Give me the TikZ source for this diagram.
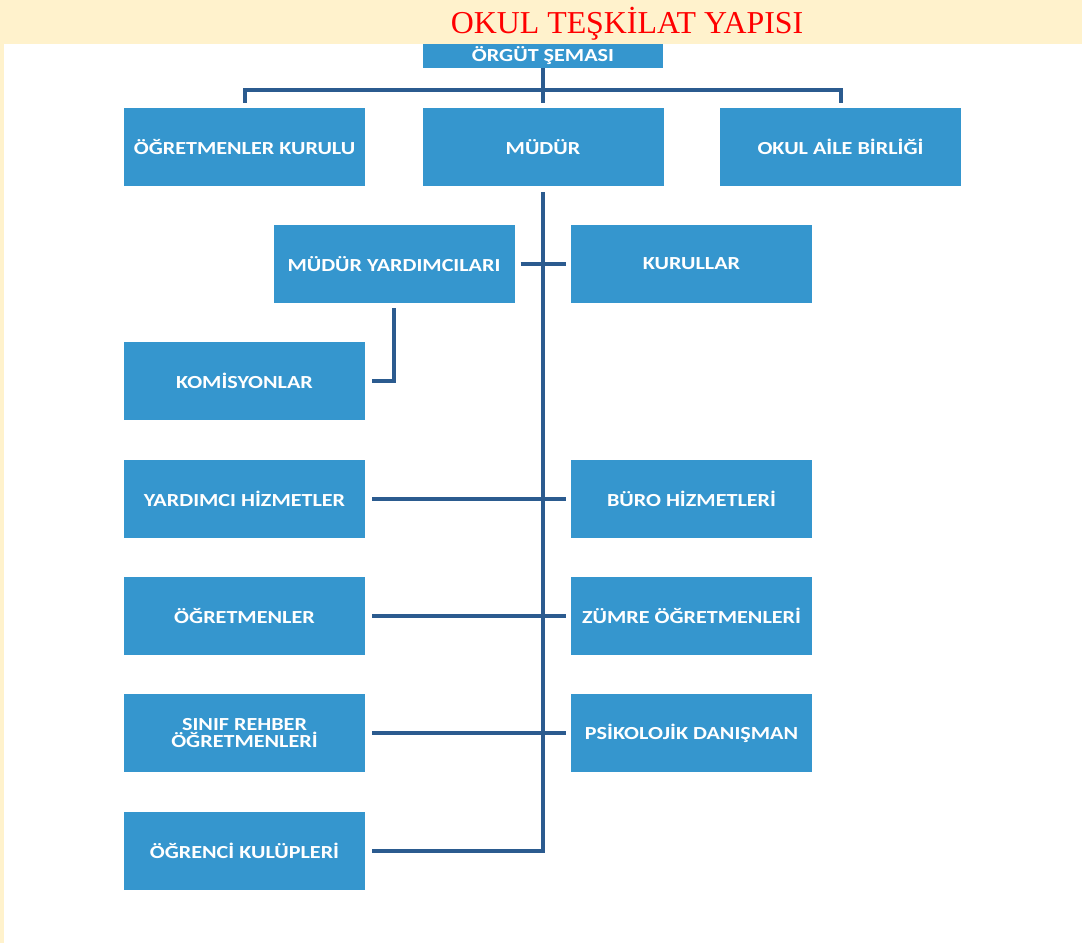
\documentclass[tikz,border=0pt]{standalone}
\usepackage{fontspec}
\setmainfont{Liberation Serif}
\newfontfamily\boxfont[FakeStretch=1.2]{Carlito}
\definecolor{cream}{HTML}{FFF2CC}
\definecolor{boxblue}{HTML}{3596CE}
\definecolor{linkblue}{HTML}{2B5B8F}
\definecolor{titlered}{HTML}{FF0000}
\begin{document}
\begin{tikzpicture}[x=1bp,y=-1bp,
  orgbox/.style={fill=boxblue, minimum width=241bp, minimum height=78bp, inner sep=0pt,
    text=white, align=center, font=\boxfont\bfseries\fontsize{18.5}{21}\selectfont},
  topbox/.style={orgbox, minimum width=240bp, minimum height=24bp},
  conn/.style={draw=linkblue, line width=4bp}]
\useasboundingbox (0,0) rectangle (1082,943);
\fill[white] (0,0) rectangle (1082,943);
\fill[cream] (0,0) rectangle (1082,44);
\fill[cream] (0,0) rectangle (4,943);
\node[anchor=base, text=titlered, font=\fontsize{32}{36}\selectfont] (title) at (627,33) {OKUL TEŞKİLAT YAPISI};
\node[topbox] (org) at (543,56) {ÖRGÜT ŞEMASI};
\node[orgbox] (okr) at (244.5,147) {ÖĞRETMENLER KURULU};
\node[orgbox] (mud) at (543,147) {MÜDÜR};
\node[orgbox] (oab) at (840.5,147) {OKUL AİLE BİRLİĞİ};
\node[orgbox] (my) at (394,264) {MÜDÜR YARDIMCILARI};
\node[orgbox] (kur) at (691.5,264) {KURULLAR};
\node[orgbox] (kom) at (244.5,381) {KOMİSYONLAR};
\node[orgbox] (yh) at (244.5,499) {YARDIMCI HİZMETLER};
\node[orgbox] (bh) at (691.5,499) {BÜRO HİZMETLERİ};
\node[orgbox] (og) at (244.5,616) {ÖĞRETMENLER};
\node[orgbox] (zo) at (691.5,616) {ZÜMRE ÖĞRETMENLERİ};
\node[orgbox] (sr) at (244.5,733) {SINIF REHBER\\[-3bp]ÖĞRETMENLERİ};
\node[orgbox] (pd) at (691.5,733) {PSİKOLOJİK DANIŞMAN};
\node[orgbox] (ogk) at (244.5,851) {ÖĞRENCİ KULÜPLERİ};
\coordinate (j) at (543,90);
\draw[conn, shorten >=5bp] (org.south) -- (mud.north);
\draw[conn, shorten <=5bp, shorten >=5bp] (okr.north) |- (j) -| (oab.north);
\draw[conn, shorten <=6bp, shorten >=7bp] (mud.south) |- (ogk.east);
\draw[conn, shorten <=6bp, shorten >=5bp] (my.east) -- (kur.west);
\draw[conn, shorten <=5bp, shorten >=7bp] (my.south) |- (kom.east);
\draw[conn, shorten <=7bp, shorten >=5bp] (yh.east) -- (bh.west);
\draw[conn, shorten <=7bp, shorten >=5bp] (og.east) -- (zo.west);
\draw[conn, shorten <=7bp, shorten >=5bp] (sr.east) -- (pd.west);
\end{tikzpicture}
\end{document}
